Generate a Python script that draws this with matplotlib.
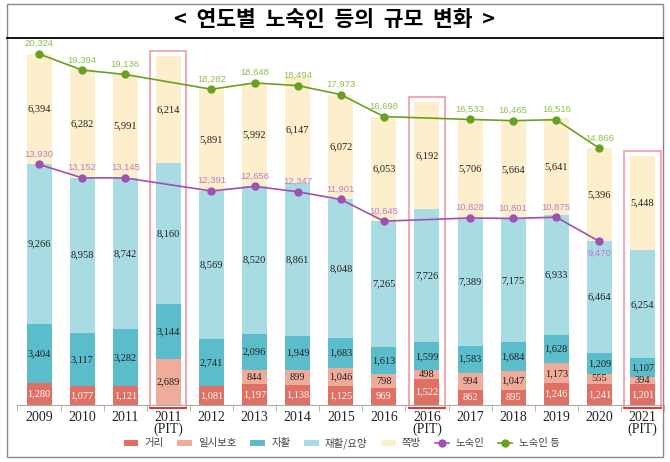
import numpy as np
import matplotlib
matplotlib.use("Agg")
import matplotlib.pyplot as plt
from matplotlib.patches import Rectangle
from matplotlib.lines import Line2D

plt.rcParams['font.family'] = ['Noto Sans CJK KR', 'DejaVu Sans']

# data
years = ['2009', '2010', '2011', '2011\n(PIT)', '2012', '2013', '2014', '2015',
         '2016', '2016\n(PIT)', '2017', '2018', '2019', '2020', '2021\n(PIT)']
pit = [3, 9, 14]
street = [1280, 1077, 1121, 0, 1081, 1197, 1138, 1125, 969, 1522, 862, 895, 1246, 1241, 1201]
temp = [0, 0, 0, 2689, 0, 844, 899, 1046, 798, 498, 994, 1047, 1173, 555, 394]
selfsup = [3404, 3117, 3282, 3144, 2741, 2096, 1949, 1683, 1613, 1599, 1583, 1684, 1628, 1209, 1107]
rehab = [9266, 8958, 8742, 8160, 8569, 8520, 8861, 8048, 7265, 7726, 7389, 7175, 6933, 6464, 6254]
jjok = [6394, 6282, 5991, 6214, 5891, 5992, 6147, 6072, 6053, 6192, 5706, 5664, 5641, 5396, 5448]
homeless = [13930, 13152, 13145, None, 12391, 12656, 12347, 11901, 10645, None,
            10828, 10801, 10875, 9470, None]
homeless_all = [20324, 19394, 19136, None, 18282, 18648, 18494, 17973, 16698, None,
                16533, 16465, 16516, 14866, None]

series = [('거리', street, '#e07064', 'white'),
          ('일시보호', temp, '#f0ac9a', '#222222'),
          ('자활', selfsup, '#5bbccb', '#222222'),
          ('재활/요양', rehab, '#a8dbe2', '#222222'),
          ('쪽방', jjok, '#fdefcb', '#222222')]

fig = plt.figure(figsize=(6.7, 4.62), dpi=100)
W, H = 670, 462
ax = fig.add_axes([17.5 / W, (H - 405) / H, 646.5 / W, 362.7 / H])

x = np.arange(len(years))
bottom = np.zeros(len(years))
handles = []
for name, vals, col, tcol in series:
    vals = np.array(vals, dtype=float)
    b = ax.bar(x, vals, 0.58, bottom=bottom, color=col, label=name, zorder=2)
    handles.append(b)
    for i, v in enumerate(vals):
        if v > 0:
            ax.text(i, bottom[i] + v / 2, f"{int(v):,}", ha='center', va='center',
                    fontsize=7.5, color=tcol, family='Liberation Serif', zorder=4)
    bottom += vals
totals = bottom

# lines (skip PIT columns, line passes through)
for vals, lc, tc, name in [(homeless, '#a050b0', '#c07cc8', '노숙인'),
                           (homeless_all, '#6aa021', '#8cc04a', '노숙인 등')]:
    xi = [i for i, v in enumerate(vals) if v is not None]
    yi = [v for v in vals if v is not None]
    ln, = ax.plot(xi, yi, color=lc, lw=1.2, marker='o', ms=5, label=name, zorder=5)
    handles.append(ln)
    for a, b in zip(xi, yi):
        if b == 9470:
            ax.text(a, b - 420, f"{b:,}", ha='center', va='top', fontsize=6.8,
                    color=tc, family='Liberation Sans', zorder=6)
        else:
            ax.text(a, b + 330, f"{b:,}", ha='center', va='bottom', fontsize=6.8,
                    color=tc, family='Liberation Sans', zorder=6)

# PIT highlight boxes
for i in pit:
    ax.add_patch(Rectangle((i - 0.42, -175), 0.84, totals[i] + 175 + 290,
                           fill=False, edgecolor='#f2909a', lw=1.1, clip_on=False, zorder=3))
    ax.plot([i - 0.42, i + 0.42], [-175, -175], color='#e02020', lw=1.2,
            clip_on=False, zorder=3)

ax.set_xlim(-0.5, len(years) - 0.5)
ax.set_ylim(0, 21000)
ax.set_xticks(x)
ax.set_xticklabels(years, family='Liberation Serif', fontsize=10, linespacing=0.9,
                   color='#222222')
ax.set_xticks(np.arange(-0.5, len(years), 1), minor=True)
ax.tick_params(axis='x', which='major', length=0, pad=4)
ax.tick_params(axis='x', which='minor', length=4, color='#aaaaaa')
ax.set_yticks([])
for s in ['top', 'right', 'left']:
    ax.spines[s].set_visible(False)
ax.spines['bottom'].set_color('#aaaaaa')

labels = [h.get_label() for h in handles]
fig.legend(handles, labels, loc='center', bbox_to_anchor=(0.51, (H - 443) / H),
           ncol=7, frameon=False, fontsize=7.5, handlelength=1.4, handleheight=0.5,
           columnspacing=1.3, handletextpad=0.6, labelcolor='#444444')

# frame and title
fig.add_artist(Rectangle((7 / W, (H - 457) / H), 656 / W, 453 / H, transform=fig.transFigure,
                         fill=False, edgecolor='#888888', lw=1.0))
fig.add_artist(Line2D([7 / W, 663 / W], [(H - 38) / H] * 2, transform=fig.transFigure,
                      color='black', lw=1.3))
fig.text(0.5, (H - 20) / H, '<  연도별  노숙인  등의  규모  변화  >', ha='center', va='center',
         fontsize=15.5, fontweight='bold')

fig.savefig('out.png', dpi=100)
